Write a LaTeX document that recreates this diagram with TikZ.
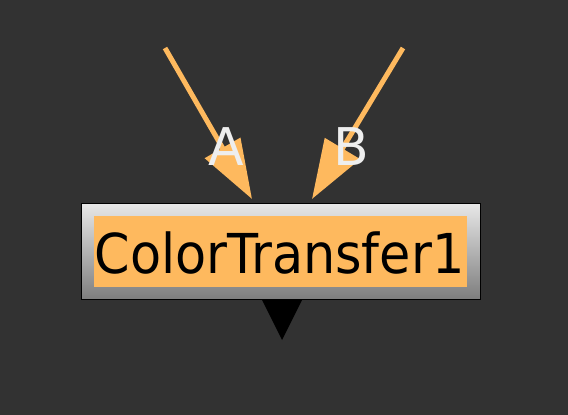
\documentclass[tikz,border=0pt]{standalone}
\usepackage{fontspec}
\setmainfont{DejaVu Sans}
\usetikzlibrary{arrows.meta}
\definecolor{bg}{RGB}{50,50,50}
\definecolor{edgeorange}{RGB}{254,185,94}
\definecolor{labelwhite}{RGB}{238,238,238}
\tikzset{
  link/.style={draw=edgeorange, line width=5pt, -{Triangle[length=59pt,width=40pt,fill=edgeorange]}},
  inlabel/.style={text=labelwhite, font=\fontsize{52}{60}\selectfont, inner sep=0pt},
  nodebox/.style={draw=black, line width=1pt, minimum width=399pt, minimum height=96pt, inner sep=0pt},
}
\begin{document}
\begin{tikzpicture}[x=1pt,y=-1pt]
\fill[bg] (0,0) rectangle (568,415);
\useasboundingbox (0,0) rectangle (568,415);
% node box
\node[nodebox, top color={rgb,255:red,232;green,232;blue,232}, bottom color={rgb,255:red,126;green,126;blue,126}] (ct) at (280.5,251) {};
\node[fill=edgeorange, minimum width=373pt, minimum height=71pt, inner sep=0pt] (lab) at (280.5,251.5) {};
\node[inner sep=0pt, anchor=base, font=\fontsize{55}{60}\selectfont] (txt) at (279.5,273) {\scalebox{0.925}[1]{ColorTransfer1}};
% output triangle
\fill[black] (262,300) -- (302,300) -- (282,340) -- cycle;
% inputs
\coordinate (srcA) at (165,48);
\coordinate (srcB) at (403,48);
\coordinate (inA) at (252,199);
\coordinate (inB) at (312,199);
\draw[link] (srcA) -- (inA);
\draw[link] (srcB) -- (inB);
\node[inlabel] (la) at (226,147) {A};
\node[inlabel] (lb) at (351,147) {B};
\end{tikzpicture}
\end{document}
